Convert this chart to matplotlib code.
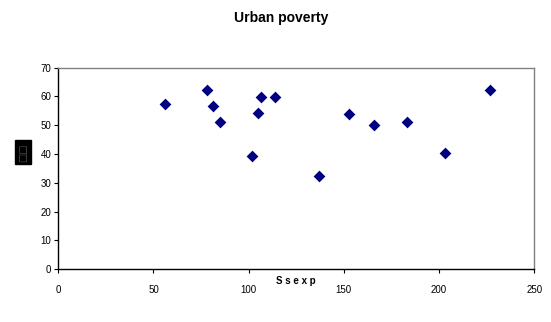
import matplotlib.pyplot as plt

# values
ssexp = [55.9, 78.1, 81.2, 85.2, 101.5, 105.0, 106.4, 113.7, 136.8, 152.8, 166.1, 183.1, 203.3, 226.9]
urban_poverty = [57.5, 62.4, 56.6, 51.1, 39.3, 54.3, 59.8, 59.8, 32.3, 53.8, 50.0, 51.1, 40.3, 62.4]
x_ticks = [0, 50, 100, 150, 200, 250]
y_ticks = [0, 10, 20, 30, 40, 50, 60, 70]

plt.rcParams['font.family'] = ['Liberation Sans', 'DejaVu Sans']

fig = plt.figure(figsize=(5.51, 3.22), dpi=100)
ax = fig.add_axes([0.1058, 0.1637, 0.8637, 0.6263])

ax.scatter(ssexp, urban_poverty, marker='D', s=36, color='#000080', zorder=3, linewidths=0)

ax.set_xlim(0, 250)
ax.set_ylim(0, 70)
ax.set_xticks(x_ticks)
ax.set_yticks(y_ticks)
ax.tick_params(axis='both', labelsize=7, length=3, width=0.8, color='black', pad=2)
ax.tick_params(axis='x', pad=8)

for side in ['left', 'bottom']:
    ax.spines[side].set_color('black')
    ax.spines[side].set_linewidth(1.0)
for side in ['top', 'right']:
    ax.spines[side].set_color('#808080')
    ax.spines[side].set_linewidth(1.0)

fig.text(0.51, 0.945, 'Urban poverty', ha='center', va='center', fontsize=10, fontweight='bold')
fig.text(0.537, 0.127, 'S s e x p', ha='center', va='center', fontsize=7, fontweight='bold')

# y label is rendered as missing glyphs in the reference
fig.text(0.042, 0.527, '\u25a1\u25a1', rotation=90, ha='center', va='center', fontsize=7,
         color='#555555', family=['DejaVu Sans'],
         bbox=dict(boxstyle='square,pad=0.3', facecolor='black', edgecolor='black'))

fig.savefig('out.png', dpi=100)
